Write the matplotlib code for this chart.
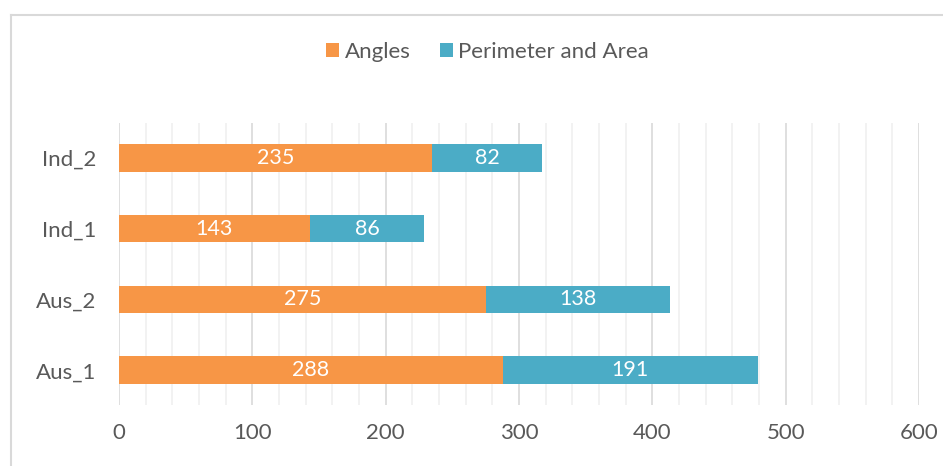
import matplotlib
matplotlib.use("Agg")
import matplotlib.pyplot as plt
from matplotlib.lines import Line2D
import numpy as np

categories = ["Aus_1", "Aus_2", "Ind_1", "Ind_2"]
angles = [288, 275, 143, 235]
perimeter_area = [191, 138, 86, 82]

orange = "#F79646"
teal = "#4BACC6"
grey_text = "#595959"

plt.rcParams["font.family"] = ["Lato", "DejaVu Sans"]

fig = plt.figure(figsize=(9.43, 4.66), dpi=100)
ax = fig.add_axes([0.1262, 0.1309, 0.8483, 0.6051])

y = np.arange(len(categories))
h = 0.39
b1 = ax.barh(y, angles, height=h, color=orange, label="Angles", zorder=3)
b2 = ax.barh(y, perimeter_area, left=angles, height=h, color=teal,
             label="Perimeter and Area", zorder=3)

for bars in (b1, b2):
    for bar in bars:
        w = bar.get_width()
        ax.text(bar.get_x() + w / 2, bar.get_y() + bar.get_height() / 2,
                f"{int(w)}", ha="center", va="center", color="white",
                fontsize=15.5, zorder=4)

ax.set_xlim(0, 600)
ax.set_ylim(-0.49, 3.49)
ax.set_xticks(np.arange(0, 601, 100))
ax.set_xticks(np.arange(0, 601, 20), minor=True)
ax.set_yticks(y)
ax.set_yticklabels(categories)
ax.grid(axis="x", which="major", color="#D9D9D9", linewidth=1.2, zorder=1)
ax.grid(axis="x", which="minor", color="#F0F0F0", linewidth=1.2, zorder=0)
ax.tick_params(axis="both", which="both", length=0, labelsize=16,
               labelcolor=grey_text)
ax.tick_params(axis="x", pad=13)
ax.tick_params(axis="y", pad=16)
for s in ax.spines.values():
    s.set_visible(False)

fig.legend(handles=[b1, b2], loc="center", bbox_to_anchor=(0.517, 0.888),
           ncol=2, frameon=False, fontsize=16, labelcolor=grey_text,
           handlelength=0.6, handleheight=0.6, handletextpad=0.25,
           columnspacing=1.3)

# chart area border (left and top only visible in crop)
fig.add_artist(Line2D([0.0117, 0.0117], [0.0, 0.968], color="#D9D9D9",
                      linewidth=1.5, transform=fig.transFigure))
fig.add_artist(Line2D([0.0117, 1.0], [0.968, 0.968], color="#D9D9D9",
                      linewidth=1.5, transform=fig.transFigure))

fig.savefig("out.png", dpi=100)
